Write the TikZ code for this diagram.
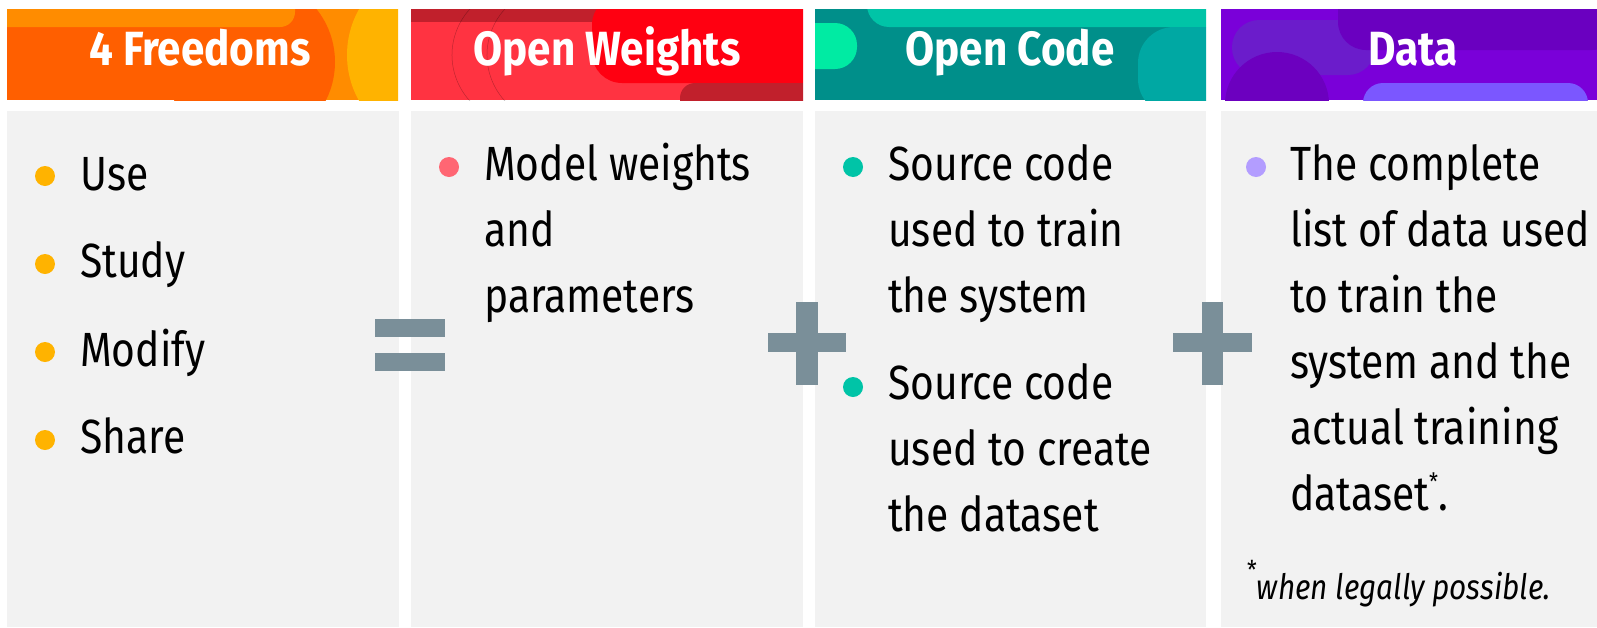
\documentclass[tikz,border=0pt]{standalone}
\usepackage{fontspec}
\setmainfont{Fira Sans}[FakeStretch=0.85]
\newfontfamily\hdrfont{Fira Sans}[FakeStretch=0.88]
\definecolor{orDark}{HTML}{FF5F00}
\definecolor{orLight}{HTML}{FF8C00}
\definecolor{orYel}{HTML}{FFB300}
\definecolor{rdBase}{HTML}{FF3341}
\definecolor{rdDark}{HTML}{C1202C}
\definecolor{rdBright}{HTML}{FF0011}
\definecolor{tlBase}{HTML}{008F8A}
\definecolor{tlLight}{HTML}{00C4A7}
\definecolor{tlMint}{HTML}{00EBA3}
\definecolor{tlMid}{HTML}{00A8A3}
\definecolor{puBase}{HTML}{7A00D9}
\definecolor{puDark}{HTML}{6A00C0}
\definecolor{puPill}{HTML}{6B1CCB}
\definecolor{puCirc}{HTML}{6C00BF}
\definecolor{puViolet}{HTML}{7B57FF}
\definecolor{panel}{HTML}{F2F2F2}
\definecolor{opgray}{HTML}{7A8F99}
\definecolor{dotOr}{HTML}{FFB300}
\definecolor{dotRd}{HTML}{FF6673}
\definecolor{dotTl}{HTML}{00C4A7}
\definecolor{dotPu}{HTML}{B39DFF}
\newcommand{\mlines}[1]{\vtop{\baselineskip=66pt\relax #1}}
\begin{document}
\begin{tikzpicture}[x=1pt,y=-1pt,
  panelbox/.style={fill=panel, draw=none, anchor=north west, inner sep=0pt, minimum height=516pt},
  hdrtext/.style={anchor=base, text=white, font=\hdrfont\fontsize{48}{48}\selectfont\bfseries, inner sep=0pt},
  bodytext/.style={anchor=base west, inner sep=0pt, font=\fontsize{48}{66}\selectfont},
  dotmark/.style={circle, minimum size=20pt, inner sep=0pt, draw=none},
  opbar/.style={fill=opgray}
]
\useasboundingbox (0,0) rectangle (1597,627);
\fill[white] (0,0) rectangle (1597,627);

% ---- body panels
\node[panelbox, minimum width=392pt] (b1) at (7,111) {};
\node[panelbox, minimum width=392pt] (b2) at (411,111) {};
\node[panelbox, minimum width=391pt] (b3) at (815,111) {};
\node[panelbox, minimum width=376pt] (b4) at (1221,111) {};

% ---- header 1 (orange)
\begin{scope}
\clip (7,9) rectangle (398,100);
\fill[orDark] (7,9) rectangle (398,100);
\fill[orLight] (300,9) rectangle (398,100);
\fill[orDark] (250,62) circle[radius=85];
\fill[orLight, rounded corners=15] (-10,-10) -- (295,-10) -- (295,27) -- (-10,27) -- cycle;
\fill[orYel] (440,55) circle[radius=93];
\end{scope}

% ---- header 2 (red)
\begin{scope}
\clip (411,9) rectangle (803,100);
\fill[rdBase] (411,9) rectangle (803,100);
\fill[rdDark] (400,0) rectangle (640,22);
\draw[black, opacity=0.25, line width=0.5pt] ([shift={(520,55)}]110:68) arc[start angle=110, end angle=250, radius=68];
\draw[black, opacity=0.25, line width=0.5pt] ([shift={(555,55)}]110:68) arc[start angle=110, end angle=250, radius=68];
\fill[rdBright, rounded corners=30] (592,-5) -- (830,-5) -- (830,83) -- (592,83) -- cycle;
\fill[rdDark, rounded corners=15] (680,83) -- (830,83) -- (830,120) -- (680,120) -- cycle;
\end{scope}

% ---- header 3 (teal)
\begin{scope}
\clip (815,9) rectangle (1206,100);
\fill[tlBase] (815,9) rectangle (1206,100);
\fill[tlLight, rounded corners=22] (867,-30) -- (1230,-30) -- (1230,27) -- (867,27) -- cycle;
\fill[tlMint, rounded corners=22] (790,23) -- (857,23) -- (857,69) -- (790,69) -- cycle;
\fill[tlMid, rounded corners=36] (1138,27) -- (1240,27) -- (1240,115) -- (1138,115) -- cycle;
\end{scope}

% ---- header 4 (purple)
\begin{scope}
\clip (1221,9) rectangle (1597,100);
\fill[puBase] (1221,9) rectangle (1597,100);
\fill[puPill, rounded corners=27] (1232,20) -- (1375,20) -- (1375,75) -- (1232,75) -- cycle;
\fill[puDark, rounded corners=28] (1338,-30) -- (1620,-30) -- (1620,50) -- (1338,50) -- cycle;
\fill[puCirc] (1277,104) circle[radius=52];
\fill[puViolet, rounded corners=20] (1363,83) -- (1588,83) -- (1588,130) -- (1363,130) -- cycle;
\end{scope}

% ---- header texts
\node[hdrtext] (h1) at (200,65) {4 Freedoms};
\node[hdrtext] (h2) at (607,65) {Open Weights};
\node[hdrtext] (h3) at (1010,65) {Open Code};
\node[hdrtext] (h4) at (1413,65) {Data};

% ---- column 1
\node[dotmark, fill=dotOr] (d11) at (45,176) {};
\node[dotmark, fill=dotOr] (d12) at (45,264) {};
\node[dotmark, fill=dotOr] (d13) at (45,352) {};
\node[dotmark, fill=dotOr] (d14) at (45,440) {};
\node[bodytext] (t11) at (80,190) {Use};
\node[bodytext] (t12) at (80,277) {Study};
\node[bodytext] (t13) at (80,366) {Modify};
\node[bodytext] (t14) at (80,453) {Share};

% ---- column 2
\node[dotmark, fill=dotRd] (d21) at (449,167) {};
\node[bodytext] (t21) at (484,180) {\mlines{\hbox{Model weights}\hbox{and}\hbox{parameters}}};

% ---- column 3
\node[dotmark, fill=dotTl] (d31) at (853,167) {};
\node[bodytext] (t31) at (888,180) {\mlines{\hbox{Source code}\hbox{used to train}\hbox{the system}}};
\node[dotmark, fill=dotTl] (d32) at (853,387) {};
\node[bodytext] (t32) at (888,399) {\mlines{\hbox{Source code}\hbox{used to create}\hbox{the dataset}}};

% ---- column 4
\node[dotmark, fill=dotPu] (d41) at (1256,167) {};
\node[bodytext] (t41) at (1290,180) {\mlines{\hbox{The complete}\hbox{list of data used}\hbox{to train the}\hbox{system and the}\hbox{actual training}\hbox{dataset\raisebox{20pt}{\fontsize{24}{24}\selectfont *}.}}};
\node[anchor=base west, inner sep=0pt] (fn) at (1247,599) {\raisebox{20pt}{\fontsize{26}{26}\selectfont *}\fontsize{35}{35}\selectfont\itshape when legally possible.};

% ---- operators
\fill[opbar] (375,319) rectangle (445,337);
\fill[opbar] (375,353) rectangle (445,371);
\fill[opbar] (768,333) rectangle (846,352);
\fill[opbar] (796,302) rectangle (818,385);
\fill[opbar] (1173,333) rectangle (1252,352);
\fill[opbar] (1202,302) rectangle (1223,385);
\end{tikzpicture}
\end{document}
